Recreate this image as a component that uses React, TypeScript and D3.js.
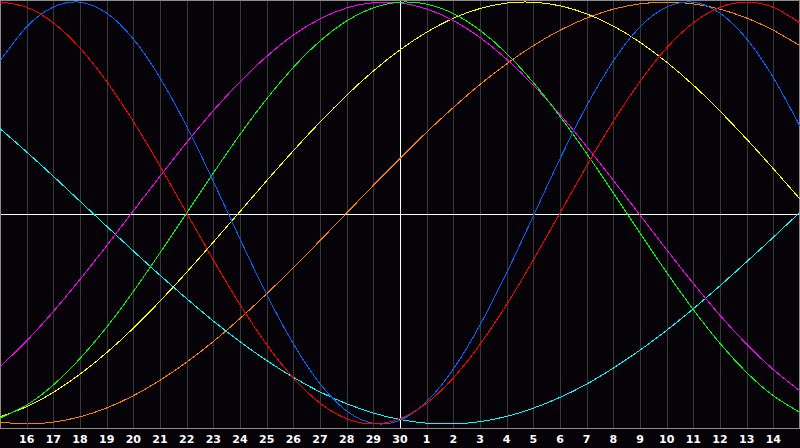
import React, { useEffect, useRef } from 'react';
import * as d3 from 'd3';

// day labels under the grid (index 1..29), the 15th sits on both edges
const dayLabels = [
    '16', '17', '18', '19', '20', '21', '22', '23', '24', '25', '26', '27', '28', '29', '30',
    '1', '2', '3', '4', '5', '6', '7', '8', '9', '10', '11', '12', '13', '14',
];

// one value per day (31 days, edge to edge), -1..1
const physical = [
    0.72, 0.882, 0.976, 0.999, 0.947, 0.825, 0.641, 0.411, 0.15, -0.123, -0.386,
    -0.62, -0.809, -0.938, -0.997, -0.982, -0.894, -0.74, -0.531, -0.283, -0.014,
    0.257, 0.508, 0.72, 0.882, 0.976, 0.999, 0.947, 0.825, 0.641, 0.411,
];
const emotional = [
    1.0, 0.975, 0.901, 0.782, 0.623, 0.434, 0.223, 0.0, -0.223, -0.434, -0.623,
    -0.782, -0.901, -0.975, -1.0, -0.975, -0.901, -0.782, -0.623, -0.434, -0.223,
    0.0, 0.223, 0.434, 0.623, 0.782, 0.901, 0.975, 1.0, 0.975, 0.901,
];
const intellectual = [
    -0.972, -0.91, -0.815, -0.69, -0.541, -0.372, -0.189, 0.0, 0.189, 0.372, 0.541,
    0.69, 0.815, 0.91, 0.972, 0.999, 0.99, 0.945, 0.866, 0.756, 0.618,
    0.458, 0.282, 0.095, -0.095, -0.282, -0.458, -0.618, -0.756, -0.866, -0.945,
];
const intuitive = [
    -0.729, -0.606, -0.467, -0.315, -0.155, 0.01, 0.174, 0.334, 0.485, 0.622, 0.742,
    0.843, 0.92, 0.972, 0.997, 0.996, 0.967, 0.912, 0.832, 0.729, 0.606,
    0.467, 0.315, 0.155, -0.01, -0.174, -0.334, -0.485, -0.622, -0.742, -0.843,
];
const aesthetic = [
    -0.966, -0.918, -0.85, -0.764, -0.662, -0.546, -0.418, -0.281, -0.138, 0.007, 0.153,
    0.295, 0.431, 0.558, 0.673, 0.773, 0.857, 0.923, 0.969, 0.995, 0.999,
    0.982, 0.944, 0.886, 0.809, 0.715, 0.606, 0.483, 0.35, 0.21, 0.066,
];
const awareness = [
    -0.991, -1.0, -0.991, -0.966, -0.924, -0.866, -0.793, -0.707, -0.609, -0.5, -0.383,
    -0.259, -0.131, 0.0, 0.131, 0.259, 0.383, 0.5, 0.609, 0.707, 0.793,
    0.866, 0.924, 0.966, 0.991, 1.0, 0.991, 0.966, 0.924, 0.866, 0.793,
];
const spiritual = [
    0.4, 0.289, 0.174, 0.056, -0.063, -0.18, -0.295, -0.406, -0.512, -0.61, -0.699,
    -0.779, -0.848, -0.904, -0.948, -0.979, -0.996, -0.999, -0.989, -0.964, -0.925,
    -0.874, -0.811, -0.735, -0.65, -0.556, -0.454, -0.345, -0.231, -0.115, 0.004,
];

const seriesNames = ['awareness', 'aesthetic', 'spiritual', 'intuitive', 'intellectual', 'physical', 'emotional'];
const seriesValues = [awareness, aesthetic, spiritual, intuitive, intellectual, physical, emotional];
const seriesColors = ['#ff8000', '#ffff00', '#00ffff', '#ff00ff', '#00ff00', '#0066ff', '#ff0000'];

const width = 800;
const height = 448;
const plotBottom = 428;

const App: React.FC = () => {
    const ref = useRef<SVGSVGElement>(null);

    useEffect(() => {
        const svg = d3.select(ref.current);
        svg.selectAll('*').remove();

        const xScale = d3.scaleLinear().domain([0, 30]).range([0, width]);
        const yScale = d3.scaleLinear().domain([-1, 1]).range([424, 2]);

        // background
        svg.append('rect')
            .attr('width', width)
            .attr('height', height)
            .attr('fill', '#050308');

        // day gridlines
        svg.append('g')
            .selectAll('line')
            .data(d3.range(1, 30))
            .enter()
            .append('line')
            .attr('x1', (d) => Math.round(xScale(d)) + 0.5)
            .attr('x2', (d) => Math.round(xScale(d)) + 0.5)
            .attr('y1', 0)
            .attr('y2', plotBottom)
            .attr('stroke', '#383838')
            .attr('stroke-width', 1)
            .attr('shape-rendering', 'crispEdges');

        // zero line and today line
        svg.append('line')
            .attr('x1', 0)
            .attr('x2', width)
            .attr('y1', 214)
            .attr('y2', 214)
            .attr('stroke', '#ffffff')
            .attr('shape-rendering', 'crispEdges');

        svg.append('line')
            .attr('x1', xScale(15) + 0.5)
            .attr('x2', xScale(15) + 0.5)
            .attr('y1', 0)
            .attr('y2', plotBottom)
            .attr('stroke', '#ffffff')
            .attr('shape-rendering', 'crispEdges');

        // border
        svg.append('rect')
            .attr('x', 0.5)
            .attr('y', 0.5)
            .attr('width', width - 1)
            .attr('height', plotBottom)
            .attr('fill', 'none')
            .attr('stroke', '#8c8c8c')
            .attr('shape-rendering', 'crispEdges');

        const lineGen = d3
            .line<number>()
            .x((_, i) => xScale(i))
            .y((d) => yScale(d))
            .curve(d3.curveNatural);

        // aliased 1px curves like the original bitmap
        svg.append('g')
            .selectAll('path')
            .data(seriesValues)
            .enter()
            .append('path')
            .attr('class', (_, i) => seriesNames[i])
            .attr('d', (d) => lineGen(d))
            .attr('fill', 'none')
            .attr('stroke', (_, i) => seriesColors[i])
            .attr('stroke-width', 1)
            .attr('shape-rendering', 'crispEdges');

        // day labels
        svg.append('g')
            .selectAll('text')
            .data(dayLabels)
            .enter()
            .append('text')
            .attr('x', (_, i) => xScale(i + 1))
            .attr('y', 443)
            .attr('text-anchor', 'middle')
            .attr('fill', '#ffffff')
            .style('font-family', 'DejaVu Sans, sans-serif')
            .style('font-size', '11px')
            .style('font-weight', 'bold')
            .text((d) => d);
    }, []);

    return (
        <svg
            ref={ref}
            width={width}
            height={height}
            style={{ position: 'absolute', left: 0, top: 0, display: 'block' }}
        ></svg>
    );
};

export default App;
